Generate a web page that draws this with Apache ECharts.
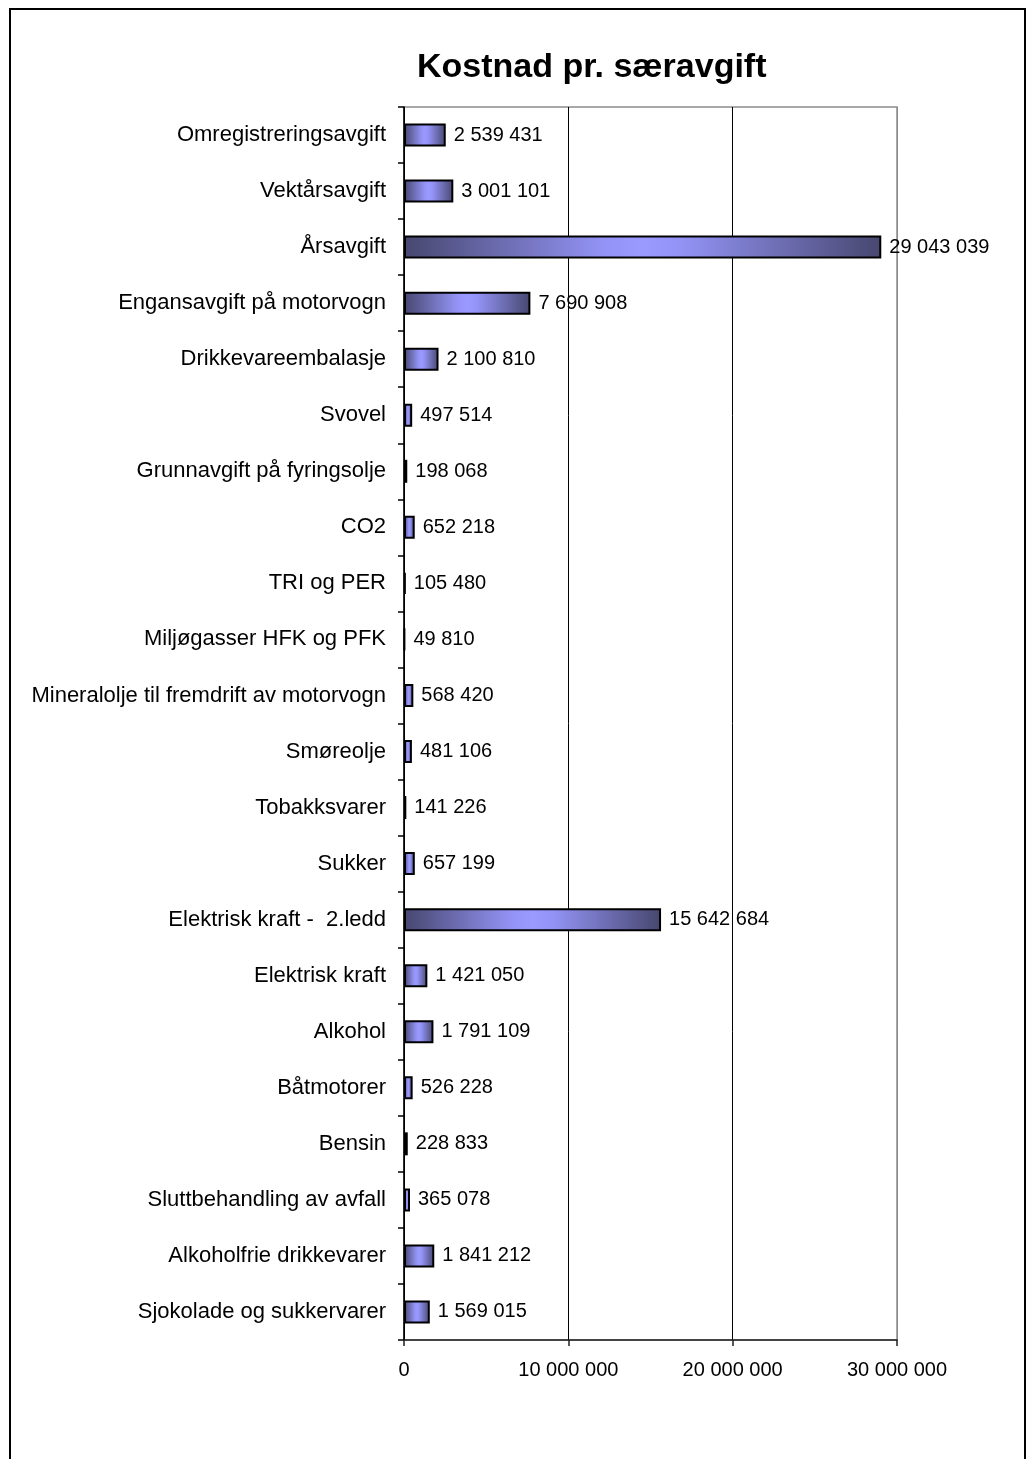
<!DOCTYPE html>
<html>
<head>
<meta charset="utf-8">
<script src="https://cdn.jsdelivr.net/npm/echarts@6/dist/echarts.min.js"></script>
<style>
html,body{margin:0;padding:0;background:#fff;}
#c{width:1030px;height:1459px;}
</style>
</head>
<body>
<div id="c"></div>
<script>
const titleText = 'Kostnad pr. særavgift';
const categories = [
  'Omregistreringsavgift',
  'Vektårsavgift',
  'Årsavgift',
  'Engansavgift på motorvogn',
  'Drikkevareembalasje',
  'Svovel',
  'Grunnavgift på fyringsolje',
  'CO2',
  'TRI og PER',
  'Miljøgasser HFK og PFK',
  'Mineralolje til fremdrift av motorvogn',
  'Smøreolje',
  'Tobakksvarer',
  'Sukker',
  'Elektrisk kraft -  2.ledd',
  'Elektrisk kraft',
  'Alkohol',
  'Båtmotorer',
  'Bensin',
  'Sluttbehandling av avfall',
  'Alkoholfrie drikkevarer',
  'Sjokolade og sukkervarer'
];
const values = [
  2539431, 3001101, 29043039, 7690908, 2100810, 497514, 198068, 652218,
  105480, 49810, 568420, 481106, 141226, 657199, 15642684, 1421050,
  1791109, 526228, 228833, 365078, 1841212, 1569015
];
const xTicks = [0, 10000000, 20000000, 30000000];

function fmt(v) {
  return String(v).replace(/\B(?=(\d{3})+(?!\d))/g, ' ');
}

const FONT = 'Liberation Sans, Arial, sans-serif';
const chart = echarts.init(document.getElementById('c'), null, {renderer: 'canvas'});
chart.setOption({
  animation: false,
  backgroundColor: '#ffffff',
  title: {
    text: titleText,
    left: 412,
    top: 46,
    textStyle: {fontFamily: FONT, fontWeight: 'bold', fontSize: 34, color: '#000'}
  },
  grid: {
    left: 404, right: 133, top: 107, bottom: 119,
    show: true, borderColor: '#8c8c8c', borderWidth: 1.5, backgroundColor: 'transparent'
  },
  xAxis: {
    type: 'value',
    min: xTicks[0],
    max: xTicks[xTicks.length - 1],
    interval: 10000000,
    axisLine: {show: true, lineStyle: {color: '#222', width: 1.5}},
    axisTick: {show: true, length: 6, lineStyle: {color: '#222', width: 1.5}},
    splitLine: {show: true, lineStyle: {color: ['#000', '#000', '#000', '#8c8c8c'], width: 1}},
    axisLabel: {
      margin: 20,
      fontFamily: FONT, fontSize: 20, color: '#000',
      formatter: v => fmt(v)
    }
  },
  yAxis: {
    type: 'category',
    inverse: true,
    data: categories,
    axisLine: {show: true, lineStyle: {color: '#000', width: 1.5}},
    axisTick: {show: true, length: 6, lineStyle: {color: '#000', width: 1.5}},
    axisLabel: {
      margin: 18,
      fontFamily: FONT, fontSize: 22, color: '#000'
    }
  },
  series: [{
    type: 'bar',
    data: values,
    barWidth: 23,
    itemStyle: {
      color: new echarts.graphic.LinearGradient(0, 0, 1, 0, [
        {offset: 0, color: '#47476f'},
        {offset: 0.42, color: '#9393f6'},
        {offset: 0.5, color: '#9999ff'},
        {offset: 0.58, color: '#9393f6'},
        {offset: 1, color: '#47476f'}
      ]),
      borderColor: '#000',
      borderWidth: 2
    },
    label: {
      show: true,
      position: 'right',
      distance: 8,
      fontFamily: FONT, fontSize: 20, color: '#000',
      formatter: p => fmt(p.value)
    }
  }],
  graphic: [{
    type: 'rect',
    shape: {x: 10, y: 9, width: 1015, height: 1500},
    style: {fill: 'none', stroke: '#000', lineWidth: 2},
    silent: true
  }]
});
</script>
</body>
</html>
